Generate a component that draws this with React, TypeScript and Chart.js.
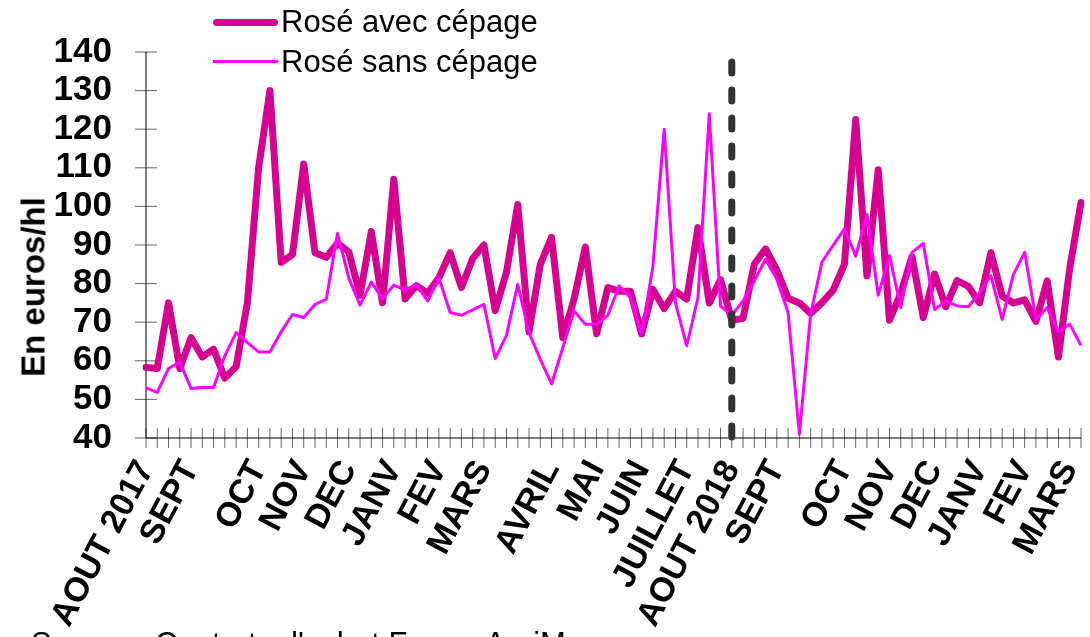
import React, { useEffect, useRef } from "react";
import { Chart, registerables } from "chart.js";

Chart.register(...registerables);

const seriesAvecLabel = "Rosé avec cépage";
const seriesSansLabel = "Rosé sans cépage";
const yTitle = "En euros/hl";
const sourceText = "Source : Contrats d'achat FranceAgriMer";

// month labels at weekly category positions
const monthMarks: [number, string][] = [
  [0, "AOUT 2017"], [4, "SEPT"], [10, "OCT"], [14, "NOV"], [18, "DEC"],
  [22, "JANV"], [26, "FEV"], [30, "MARS"], [36, "AVRIL"], [40, "MAI"],
  [44, "JUIN"], [48, "JUILLET"], [52, "AOUT 2018"], [56, "SEPT"], [62, "OCT"],
  [66, "NOV"], [70, "DEC"], [74, "JANV"], [78, "FEV"], [82, "MARS"],
];
const weekCount = 84;
const dividerIndex = 52;

const avecCepage = [
  58.3, 58, 75, 58, 66, 61, 63, 55.5, 58.5, 75,
  110, 130, 85.5, 87.5, 111, 88, 86.8, 90.5, 88.2, 77,
  93.5, 75, 107, 76, 79.5, 77.5, 81.5, 88, 79, 86.5,
  90, 73, 83, 100.5, 67.5, 85, 92, 66, 76, 89.5,
  67, 79, 78, 78, 67, 78.5, 73.5, 78, 76, 94.5,
  75, 81, 70.5, 71, 85, 89, 83.5, 76.2, 75, 72.3,
  75, 78.3, 85, 122.5, 82, 109.5, 70.5, 77.5, 87, 71.2,
  82.5, 74, 80.8, 79.3, 75, 88, 76.8, 75, 75.8, 70.2,
  80.7, 61, 84, 101,
];

const sansCepage = [
  53, 51.8, 58, 59.7, 52.8, 53.1, 53.1, 61.3, 67.3, 64.7,
  62.3, 62.3, 67.5, 72, 71.2, 74.6, 75.9, 93, 81.5, 74.4,
  80.4, 76.1, 79.6, 78.3, 79.8, 75.5, 81.5, 72.5, 71.8, 73.2,
  74.6, 60.6, 66.6, 79.8, 67.3, 60.4, 54, 63.4, 72.9, 69.5,
  69.5, 71.8, 79.4, 76.4, 66.9, 84.5, 120, 75, 63.9, 76.4,
  124, 74.2, 71.8, 75.5, 80.7, 86.3, 81.1, 72.5, 41, 72,
  85.6, 89.9, 94.2, 87.1, 97.9, 77, 87.3, 73.8, 88.1, 90.4,
  73.3, 75.5, 74.2, 74, 77.6, 82.1, 70.7, 82.4, 88.1, 70.7,
  73.8, 67.5, 69.5, 64,
];

const yMin = 40;
const yMax = 140;
const yStep = 10;

const FONT = "'Liberation Sans', Arial, Helvetica, sans-serif";
const COLOR_AVEC = "#D5008F";
const COLOR_SANS = "#FF00FF";

const categories: string[] = Array.from({ length: weekCount }, () => "");
monthMarks.forEach(([i, l]) => { categories[i] = l; });

const axesPlugin = {
  id: "excelAxes",
  beforeDatasetsDraw(chart: any) {
    const { ctx, chartArea, scales } = chart;
    const x = scales.x, y = scales.y;
    ctx.save();
    ctx.lineWidth = 1;
    ctx.strokeStyle = "#666";
    for (let i = 0; i < weekCount; i++) {
      const px = x.getPixelForValue(i);
      ctx.beginPath();
      ctx.moveTo(px, chartArea.bottom - 10);
      ctx.lineTo(px, chartArea.bottom + 10);
      ctx.stroke();
    }
    for (let v = yMin; v <= yMax; v += yStep) {
      const py = y.getPixelForValue(v);
      ctx.beginPath();
      ctx.moveTo(chartArea.left - 11, py);
      ctx.lineTo(chartArea.left + 11, py);
      ctx.stroke();
    }
    ctx.strokeStyle = "#000";
    ctx.beginPath();
    ctx.moveTo(chartArea.left, chartArea.top);
    ctx.lineTo(chartArea.left, chartArea.bottom);
    ctx.lineTo(chartArea.right, chartArea.bottom);
    ctx.stroke();
    ctx.restore();
  },
  afterDatasetsDraw(chart: any) {
    const { ctx, chartArea, scales } = chart;
    const px = scales.x.getPixelForValue(dividerIndex);
    ctx.save();
    ctx.strokeStyle = "#333";
    ctx.lineWidth = 7;
    ctx.lineCap = "round";
    ctx.setLineDash([11, 17]);
    ctx.beginPath();
    ctx.moveTo(px, 62);
    ctx.lineTo(px, chartArea.bottom);
    ctx.stroke();
    ctx.restore();
  },
};

export default function App() {
  const ref = useRef<HTMLCanvasElement | null>(null);
  useEffect(() => {
    if (!ref.current) return;
    const chart = new Chart(ref.current, {
      type: "line",
      data: {
        labels: categories,
        datasets: [
          {
            label: seriesAvecLabel,
            data: avecCepage,
            borderColor: COLOR_AVEC,
            backgroundColor: COLOR_AVEC,
            borderWidth: 7,
            pointRadius: 0,
            borderJoinStyle: "round",
            borderCapStyle: "round",
            order: 2,
          },
          {
            label: seriesSansLabel,
            data: sansCepage,
            borderColor: COLOR_SANS,
            backgroundColor: COLOR_SANS,
            borderWidth: 3,
            pointRadius: 0,
            borderJoinStyle: "round",
            order: 1,
          },
        ],
      },
      options: {
        responsive: false,
        animation: false,
        devicePixelRatio: 1,
        layout: { padding: { top: 52, right: 9, left: 0, bottom: 0 } },
        plugins: { legend: { display: false }, tooltip: { enabled: false } },
        scales: {
          x: {
            type: "category",
            offset: false,
            grid: { display: false, drawTicks: false },
            border: { display: false },
            ticks: {
              autoSkip: false,
              minRotation: 62,
              maxRotation: 62,
              padding: 16,
              color: "#000",
              font: { family: FONT, size: 34, weight: "bold" },
            },
            afterFit: (s: any) => {
              s.height = 637 - 438;
              s.paddingLeft = 0;
              s.paddingRight = 0;
            },
          },
          y: {
            min: yMin,
            max: yMax,
            grid: { display: false, drawTicks: false },
            border: { display: false },
            ticks: {
              stepSize: yStep,
              autoSkip: false,
              padding: 34,
              color: "#000",
              font: { family: FONT, size: 35, weight: "bold" },
            },
            afterFit: (s: any) => {
              s.width = 146;
              s.paddingTop = 0;
              s.paddingBottom = 0;
            },
          },
        },
      },
      plugins: [axesPlugin],
    } as any);
    return () => chart.destroy();
  }, []);

  const legendText: React.CSSProperties = {
    position: "absolute",
    left: 281,
    fontFamily: FONT,
    fontSize: 31,
    lineHeight: "31px",
    color: "#000",
    whiteSpace: "nowrap",
  };

  return (
    <div style={{ position: "absolute", left: 0, top: 0, width: 1090, height: 637, overflow: "hidden", background: "#fff" }}>
      <canvas ref={ref} width={1090} height={637} style={{ position: "absolute", left: 0, top: 0, width: 1090, height: 637 }} />
      <div style={{ position: "absolute", left: 213, top: 18.5, width: 65, height: 7, borderRadius: 4, background: COLOR_AVEC }} />
      <div style={{ ...legendText, top: 6 }}>{seriesAvecLabel}</div>
      <div style={{ position: "absolute", left: 213, top: 60, width: 65, height: 3, background: COLOR_SANS }} />
      <div style={{ ...legendText, top: 46 }}>{seriesSansLabel}</div>
      <div
        style={{
          position: "absolute",
          left: 33,
          top: 287,
          transform: "translate(-50%, -50%) rotate(-90deg)",
          fontFamily: FONT,
          fontSize: 33,
          fontWeight: "bold",
          lineHeight: "33px",
          whiteSpace: "nowrap",
          color: "#000",
        }}
      >
        {yTitle}
      </div>
      <div style={{ position: "absolute", left: 31, top: 628, fontFamily: FONT, fontSize: 31, lineHeight: "31px", whiteSpace: "nowrap", color: "#000" }}>
        {sourceText}
      </div>
    </div>
  );
}
